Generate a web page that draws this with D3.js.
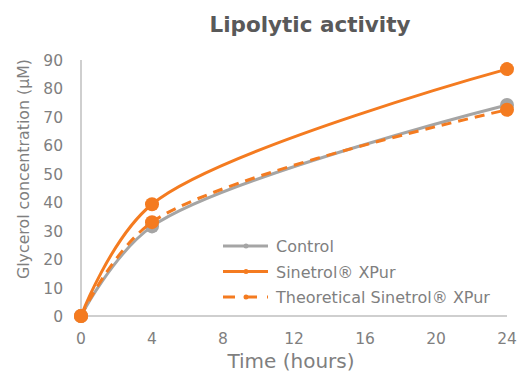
<!DOCTYPE html>
<html>
<head>
<meta charset="utf-8">
<script src="https://cdn.jsdelivr.net/npm/d3@7"></script>
<style>
  body { margin: 0; background: #fff; }
  text { font-family: "DejaVu Sans", sans-serif; }
</style>
</head>
<body>
<div id="chart"></div>
<script>
// Chart data
const hours = [0, 4, 24];
const control = [0, 31.5, 74.2];
const sinetrol = [0, 39.3, 86.8];
const theoretical = [0, 33, 72.5];
const xTicks = [0, 4, 8, 12, 16, 20, 24];
const yTicks = [0, 10, 20, 30, 40, 50, 60, 70, 80, 90];

const width = 522, height = 376;
const margin = { left: 81, right: 15, top: 60, bottom: 60 };

const svg = d3.select("#chart").append("svg")
    .attr("width", width)
    .attr("height", height);

const x = d3.scaleLinear().domain([0, 24]).range([margin.left, width - margin.right]);
const y = d3.scaleLinear().domain([0, 90]).range([height - margin.bottom, margin.top]);

const orange = "#f47b20";
const grey = "#a5a5a5";
const textGrey = "#7f7f7f";

// Title
svg.append("text")
    .attr("x", 310).attr("y", 32)
    .attr("text-anchor", "middle")
    .attr("font-size", "21.5px")
    .attr("font-weight", "bold")
    .attr("fill", "#595959")
    .text("Lipolytic activity");

// Axis lines
svg.append("line")
    .attr("x1", x(0)).attr("x2", x(0))
    .attr("y1", y(90)).attr("y2", y(0))
    .attr("stroke", "#bfbfbf").attr("stroke-width", 1.5);
svg.append("line")
    .attr("x1", x(0)).attr("x2", x(24))
    .attr("y1", y(0)).attr("y2", y(0))
    .attr("stroke", "#bfbfbf").attr("stroke-width", 1.5);

// Tick labels
svg.selectAll(".ytick").data(yTicks).enter().append("text")
    .attr("class", "ytick")
    .attr("x", 63).attr("y", d => y(d) + 6)
    .attr("text-anchor", "end")
    .attr("font-size", "15.5px")
    .attr("fill", textGrey)
    .text(d => d);

svg.selectAll(".xtick").data(xTicks).enter().append("text")
    .attr("class", "xtick")
    .attr("x", d => x(d)).attr("y", y(0) + 28)
    .attr("text-anchor", "middle")
    .attr("font-size", "15.5px")
    .attr("fill", textGrey)
    .text(d => d);

// Axis titles
svg.append("text")
    .attr("x", 291).attr("y", 368)
    .attr("text-anchor", "middle")
    .attr("font-size", "20px")
    .attr("fill", textGrey)
    .text("Time (hours)");

svg.append("text")
    .attr("transform", "translate(29, 169) rotate(-90)")
    .attr("text-anchor", "middle")
    .attr("font-size", "15.8px")
    .attr("fill", textGrey)
    .text("Glycerol concentration (µM)");

// Series
const series = [
    { name: "Control", values: control, color: grey, dash: null },
    { name: "Sinetrol® XPur", values: sinetrol, color: orange, dash: null },
    { name: "Theoretical Sinetrol® XPur", values: theoretical, color: orange, dash: "10,7" }
];

const line = d3.line()
    .x((d, i) => x(hours[i]))
    .y(d => y(d))
    .curve(d3.curveCatmullRom.alpha(0.5));

series.forEach(s => {
    svg.append("path")
        .datum(s.values)
        .attr("fill", "none")
        .attr("stroke", s.color)
        .attr("stroke-width", 3)
        .attr("stroke-dasharray", s.dash)
        .attr("d", line);
    svg.selectAll(null).data(s.values).enter().append("circle")
        .attr("cx", (d, i) => x(hours[i]))
        .attr("cy", d => y(d))
        .attr("r", 7)
        .attr("fill", s.color);
});

// Legend
const legend = svg.append("g").attr("transform", "translate(223, 246)");
series.forEach((s, i) => {
    const g = legend.append("g").attr("transform", `translate(0, ${i * 25.5})`);
    g.append("line")
        .attr("x1", 0).attr("x2", 45)
        .attr("stroke", s.color).attr("stroke-width", 3)
        .attr("stroke-dasharray", s.dash ? "12,10" : null);
    g.append("circle").attr("cx", 23).attr("r", 2.5).attr("fill", s.color);
    g.append("text")
        .attr("x", 53).attr("y", 6)
        .attr("font-size", "16px")
        .attr("fill", textGrey)
        .text(s.name);
});
</script>
</body>
</html>
